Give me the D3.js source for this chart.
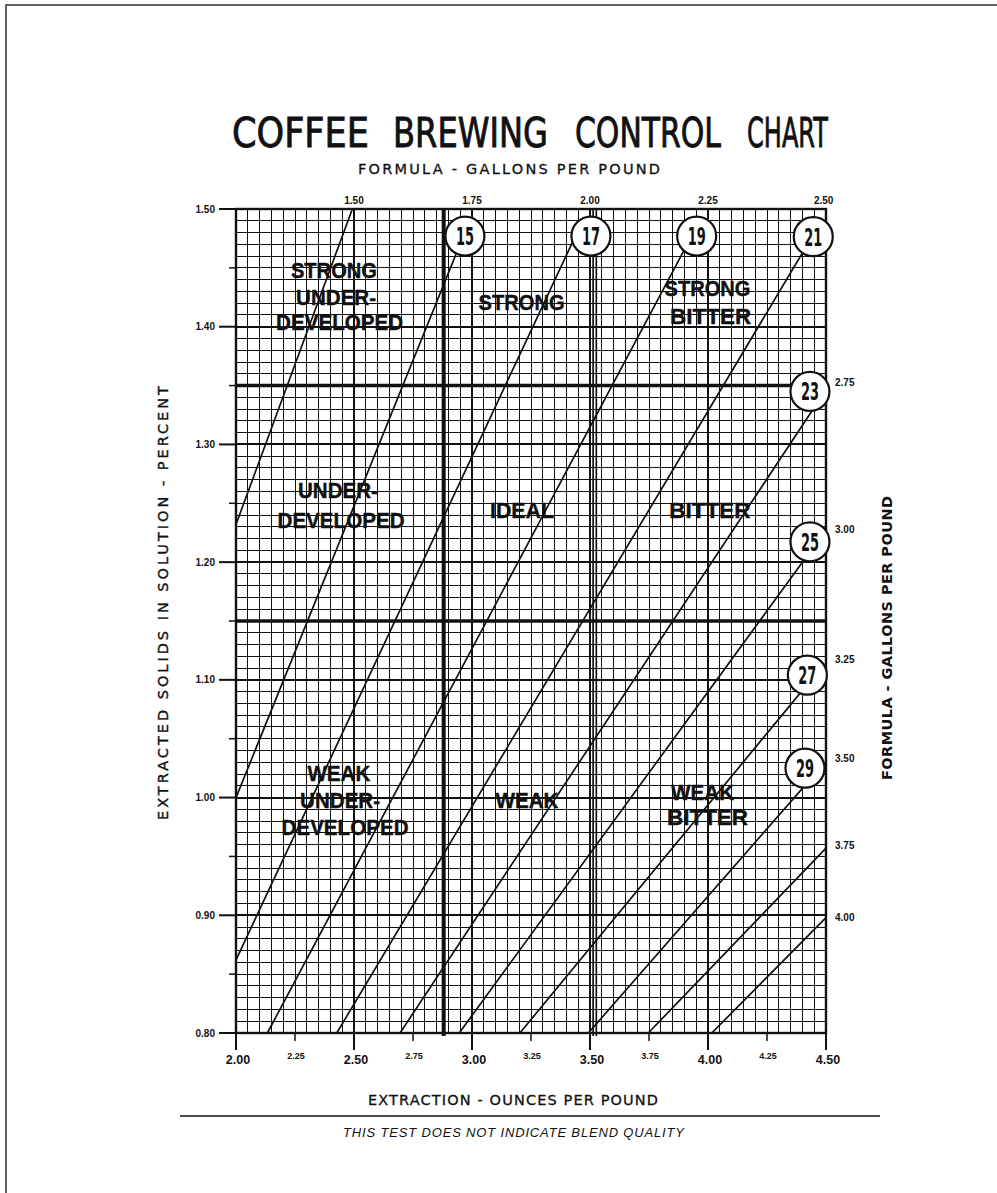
<!DOCTYPE html>
<html>
<head>
<meta charset="utf-8">
<script src="https://cdn.jsdelivr.net/npm/d3@7"></script>
<style>
  html, body { margin: 0; padding: 0; background: #fff; }
  svg { display: block; }
</style>
</head>
<body>
<script>
// ---- Brew-formula lines: extraction (oz/lb) vs. extracted solids (%) ----
const formulaGallons = [1.50, 1.75, 2.00, 2.25, 2.50, 2.75, 3.00, 3.25, 3.50, 3.75, 4.00];
const lineStartOz  = [2.000, 2.000, 2.000, 2.133, 2.427, 2.695, 2.946, 3.203, 3.493, 3.747, 4.016];
const lineStartTds = [1.232, 1.000, 0.862, 0.800, 0.800, 0.800, 0.800, 0.800, 0.800, 0.800, 0.800];
const lineEndOz    = [2.493, 2.936, 3.424, 3.898, 4.398, 4.439, 4.407, 4.394, 4.403, 4.500, 4.500];
const lineEndTds   = [1.500, 1.4635, 1.471, 1.4647, 1.462, 1.328, 1.2018, 1.0896, 1.0085, 0.957, 0.898];

// ---- Circled numbers at the ends of the lines ----
const circleNumbers = [15, 17, 19, 21, 23, 25, 27, 29];
const circleOz  = [2.970, 3.504, 3.952, 4.446, 4.432, 4.432, 4.421, 4.411];
const circleTds = [1.477, 1.477, 1.477, 1.4765, 1.345, 1.2173, 1.104, 1.025];

// ---- Formula scale labels (gallons per pound) ----
const topFormulaLabels = ["1.50", "1.75", "2.00", "2.25", "2.50"];
const topFormulaOz = [2.50, 3.00, 3.50, 4.00, 4.49];
const rightFormulaLabels = ["2.75", "3.00", "3.25", "3.50", "3.75", "4.00"];
const rightFormulaTds = [1.353, 1.228, 1.117, 1.033, 0.959, 0.898];

// ---- Axis ticks ----
const xMajorTicks = [2.00, 2.50, 3.00, 3.50, 4.00, 4.50];
const xMinorTicks = [2.25, 2.75, 3.25, 3.75, 4.25];
const yMajorTicks = [0.80, 0.90, 1.00, 1.10, 1.20, 1.30, 1.40, 1.50];
const yMinorTicks = [0.85, 0.95, 1.05, 1.15, 1.25, 1.35, 1.45];

// ---- Ideal brewing box boundaries ----
const idealOz = [2.88, 3.52];
const idealTds = [1.15, 1.35];

// ---- Region names ----
const regionWords = ["STRONG", "UNDER-", "DEVELOPED", "STRONG", "STRONG", "BITTER",
                     "UNDER-", "DEVELOPED", "IDEAL", "BITTER",
                     "WEAK", "UNDER-", "DEVELOPED", "WEAK", "WEAK", "BITTER"];
const regionOz  = [2.415, 2.424, 2.439, 3.210, 3.998, 4.011,
                   2.432, 2.445, 3.212, 4.008,
                   2.436, 2.441, 2.462, 3.233, 3.977, 3.998];
const regionTds = [1.4482, 1.4252, 1.4040, 1.4212, 1.4329, 1.4091,
                   1.2613, 1.2358, 1.2443, 1.2443,
                   1.0208, 0.9979, 0.9750, 0.9979, 1.0047, 0.9835];

// ---- Title words ----
const titleWords = ["COFFEE", "BREWING", "CONTROL", "CHART"];

// ---- Layout & style ----
const W = 997, H = 1193;
const INK = "#111";
const wordWidth = { "STRONG": 86, "UNDER-": 80, "DEVELOPED": 127, "BITTER": 81, "IDEAL": 64, "WEAK": 63 };
const titleWordBox = [[232, 137], [393, 155], [575, 146], [747, 81]];

const svg = d3.select("body").append("svg")
  .attr("width", W).attr("height", H)
  .attr("viewBox", `0 0 ${W} ${H}`);

svg.append("rect").attr("width", W).attr("height", H).attr("fill", "#fff");

// page frame (top and left edges)
svg.append("path")
  .attr("d", `M6,${H} L6,5 L${W},5`)
  .attr("fill", "none").attr("stroke", "#333").attr("stroke-width", 1.5);

const x = d3.scaleLinear().domain([2.0, 4.5]).range([236, 826]);
const y = d3.scaleLinear().domain([0.80, 1.50]).range([1033, 209]);

const plot = svg.append("g");

// fine grid: 0.05 oz columns, 0.01 % rows
const gridX = d3.range(0, 51).map(i => +(2 + i * 0.05).toFixed(2));
const gridY = d3.range(0, 71).map(i => +(0.80 + i * 0.01).toFixed(2));

plot.append("g").selectAll("line").data(gridX).join("line")
  .attr("x1", d => x(d)).attr("x2", d => x(d))
  .attr("y1", y(1.50)).attr("y2", y(0.80))
  .attr("stroke", INK)
  .attr("stroke-width", (d, i) => i % 10 === 0 ? 2 : 1)
  .attr("shape-rendering", "crispEdges");

plot.append("g").selectAll("line").data(gridY).join("line")
  .attr("y1", d => y(d)).attr("y2", d => y(d))
  .attr("x1", x(2.0)).attr("x2", x(4.5))
  .attr("stroke", INK)
  .attr("stroke-width", (d, i) => i % 10 === 0 ? 2 : 1)
  .attr("shape-rendering", "crispEdges");

// plot border
plot.append("rect")
  .attr("x", x(2.0)).attr("y", y(1.50))
  .attr("width", x(4.5) - x(2.0)).attr("height", y(0.80) - y(1.50))
  .attr("fill", "none").attr("stroke", INK).attr("stroke-width", 2.4);

// ideal box boundaries (heavy rules)
plot.append("g").selectAll("line").data(idealTds).join("line")
  .attr("x1", x(2.0)).attr("x2", x(4.5))
  .attr("y1", d => y(d)).attr("y2", d => y(d))
  .attr("stroke", INK).attr("stroke-width", 3.5);

plot.append("line")
  .attr("x1", x(idealOz[0])).attr("x2", x(idealOz[0]))
  .attr("y1", y(1.50)).attr("y2", y(0.80) + 3)
  .attr("stroke", INK).attr("stroke-width", 4);
[-1.6, 1.6].forEach(off => {
  plot.append("line")
    .attr("x1", x(idealOz[1]) + off).attr("x2", x(idealOz[1]) + off)
    .attr("y1", y(1.50)).attr("y2", y(0.80) + 3)
    .attr("stroke", INK).attr("stroke-width", 1.7);
});

// left ticks and labels
const axisFont = "'Liberation Sans', Arial, sans-serif";
plot.append("g").selectAll("line").data(yMajorTicks).join("line")
  .attr("x1", 219).attr("x2", x(2.0))
  .attr("y1", d => y(d)).attr("y2", d => y(d))
  .attr("stroke", INK).attr("stroke-width", 2);
plot.append("g").selectAll("line").data(yMinorTicks).join("line")
  .attr("x1", 229).attr("x2", x(2.0))
  .attr("y1", d => y(d)).attr("y2", d => y(d))
  .attr("stroke", INK).attr("stroke-width", 1.5);
plot.append("g").selectAll("text").data(yMajorTicks).join("text")
  .attr("x", 215).attr("y", d => y(d) + 3.6)
  .attr("text-anchor", "end")
  .attr("font-family", axisFont).attr("font-weight", "bold").attr("font-size", 10)
  .attr("fill", INK)
  .text(d => d.toFixed(2));

// bottom ticks and labels
plot.append("g").selectAll("line").data(xMajorTicks).join("line")
  .attr("x1", d => x(d)).attr("x2", d => x(d))
  .attr("y1", y(0.80)).attr("y2", y(0.80) + 17)
  .attr("stroke", INK).attr("stroke-width", 2);
plot.append("g").selectAll("line").data(xMinorTicks).join("line")
  .attr("x1", d => x(d)).attr("x2", d => x(d))
  .attr("y1", y(0.80)).attr("y2", y(0.80) + 8)
  .attr("stroke", INK).attr("stroke-width", 1.5);
plot.append("g").selectAll("text").data(xMajorTicks).join("text")
  .attr("x", d => x(d) + 2).attr("y", y(0.80) + 31)
  .attr("text-anchor", "middle")
  .attr("font-family", axisFont).attr("font-size", 12.5).attr("font-weight", 600)
  .attr("fill", INK)
  .text(d => d.toFixed(2));
plot.append("g").selectAll("text").data(xMinorTicks).join("text")
  .attr("x", d => x(d) + 1).attr("y", y(0.80) + 26)
  .attr("text-anchor", "middle")
  .attr("font-family", axisFont).attr("font-size", 9).attr("font-weight", "bold")
  .attr("fill", INK)
  .text(d => d.toFixed(2));

// formula lines
const formulaLines = formulaGallons.map((g, i) => ({
  g, x1: lineStartOz[i], y1: lineStartTds[i], x2: lineEndOz[i], y2: lineEndTds[i]
}));
plot.append("g").selectAll("line").data(formulaLines).join("line")
  .attr("x1", d => x(d.x1)).attr("y1", d => y(d.y1))
  .attr("x2", d => x(d.x2)).attr("y2", d => y(d.y2))
  .attr("stroke", INK).attr("stroke-width", 1.7)
  .attr("stroke-linecap", "round");

// formula scale labels
plot.append("g").selectAll("text").data(topFormulaLabels).join("text")
  .attr("x", (d, i) => x(topFormulaOz[i])).attr("y", y(1.50) - 5)
  .attr("text-anchor", "middle")
  .attr("font-family", axisFont).attr("font-size", 10).attr("font-weight", "bold")
  .attr("fill", INK)
  .text(d => d);
plot.append("g").selectAll("text").data(rightFormulaLabels).join("text")
  .attr("x", x(4.5) + 9).attr("y", (d, i) => y(rightFormulaTds[i]) + 3.6)
  .attr("text-anchor", "start")
  .attr("font-family", axisFont).attr("font-size", 10).attr("font-weight", "bold")
  .attr("fill", INK)
  .text(d => d);

// region names
const regionFont = "'Liberation Sans', Arial, sans-serif";
plot.append("g").selectAll("text").data(regionWords).join("text")
  .attr("x", (d, i) => x(regionOz[i]) - wordWidth[d] / 2)
  .attr("y", (d, i) => y(regionTds[i]) + 8)
  .attr("textLength", d => wordWidth[d])
  .attr("lengthAdjust", "spacingAndGlyphs")
  .attr("font-family", regionFont).attr("font-weight", "bold").attr("font-size", 22)
  .attr("fill", INK).attr("stroke", INK).attr("stroke-width", 0.4)
  .text(d => d);

// circled numbers
const circles = plot.append("g").selectAll("g").data(circleNumbers).join("g")
  .attr("transform", (d, i) => `translate(${x(circleOz[i])},${y(circleTds[i])})`);
circles.append("circle")
  .attr("r", 19.5).attr("fill", "#fff").attr("stroke", INK).attr("stroke-width", 2.2);
circles.append("text")
  .attr("x", -9).attr("y", 9)
  .attr("textLength", 18).attr("lengthAdjust", "spacingAndGlyphs")
  .attr("font-family", "'DejaVu Sans', sans-serif").attr("font-size", 24).attr("font-weight", "bold")
  .attr("fill", INK)
  .text(d => d);

// titles
const titleFont = "'DejaVu Sans', sans-serif";
function spanText(txt, x0, base, len, size, opts = {}) {
  const t = svg.append("text")
    .attr("x", x0).attr("y", base)
    .attr("textLength", len).attr("lengthAdjust", opts.adjust || "spacing")
    .attr("font-family", opts.family || titleFont)
    .attr("font-size", size)
    .attr("fill", INK)
    .text(txt);
  if (opts.style) t.attr("font-style", opts.style);
  if (opts.weight) t.attr("font-weight", opts.weight);
  if (opts.stroke) t.attr("stroke", INK).attr("stroke-width", opts.stroke);
  return t;
}

// title words: each word is squeezed horizontally to its own box
titleWords.forEach((w, i) => {
  const [x0, width] = titleWordBox[i];
  const t = svg.append("text")
    .attr("x", 0).attr("y", 0)
    .attr("font-family", titleFont).attr("font-size", 40)
    .attr("fill", INK).attr("stroke", INK).attr("stroke-width", 0.9)
    .text(w);
  const natural = t.node().getComputedTextLength();
  t.attr("transform", `translate(${x0},147) scale(${width / natural},1)`);
});

spanText("FORMULA - GALLONS PER POUND", 358, 174, 302, 14.5, { stroke: 0.3 });
spanText("EXTRACTION - OUNCES PER POUND", 368, 1105, 290, 14.5, { stroke: 0.3 });
spanText("THIS TEST DOES NOT INDICATE BLEND QUALITY", 343, 1137, 341, 13,
         { style: "italic", family: "'Liberation Sans', Arial, sans-serif" });

// rotated axis titles
svg.append("text")
  .attr("transform", "translate(168,820) rotate(-90)")
  .attr("x", 0).attr("y", 0)
  .attr("textLength", 434).attr("lengthAdjust", "spacing")
  .attr("font-family", titleFont).attr("font-size", 14.5)
  .attr("fill", INK).attr("stroke", INK).attr("stroke-width", 0.4)
  .text("EXTRACTED SOLIDS IN SOLUTION - PERCENT");
svg.append("text")
  .attr("transform", "translate(892,780) rotate(-90)")
  .attr("x", 0).attr("y", 0)
  .attr("textLength", 284).attr("lengthAdjust", "spacing")
  .attr("font-family", titleFont).attr("font-size", 14.5).attr("font-weight", "bold")
  .attr("fill", INK)
  .text("FORMULA - GALLONS PER POUND");

// footer rule
svg.append("line")
  .attr("x1", 180).attr("x2", 880).attr("y1", 1116).attr("y2", 1116)
  .attr("stroke", INK).attr("stroke-width", 1.5);
</script>
</body>
</html>
